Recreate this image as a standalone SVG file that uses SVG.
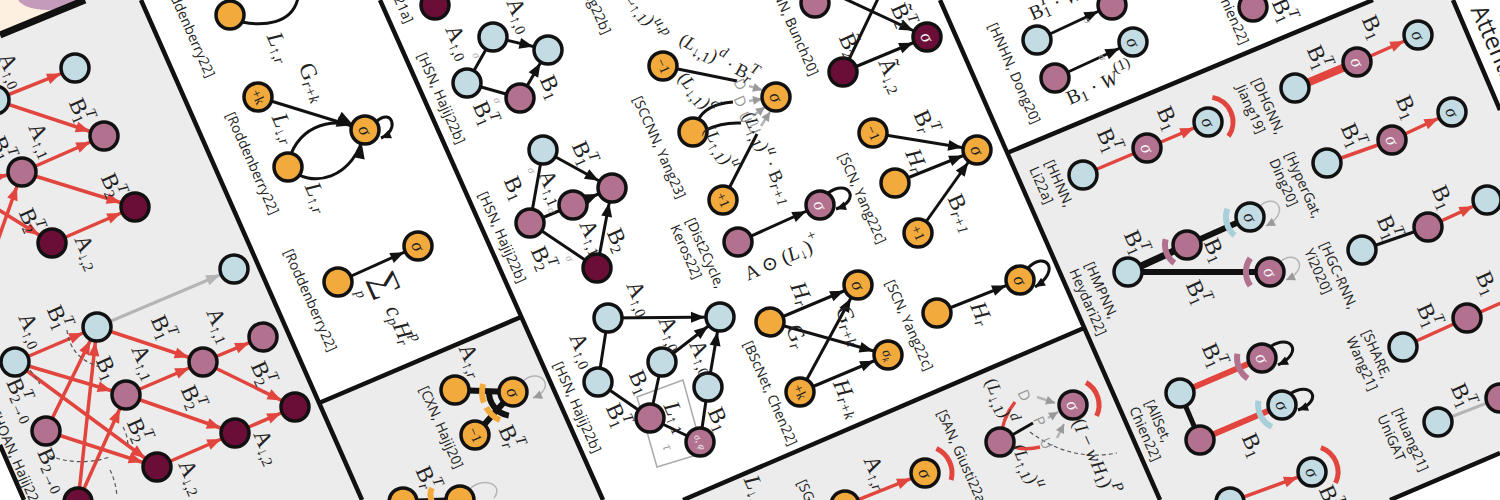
<svg xmlns="http://www.w3.org/2000/svg" width="1500" height="500" viewBox="0 0 1500 500">
<style>
.n{stroke:#111;stroke-width:3.5}
.lb{fill:#c3dce4}.mv{fill:#b1718f}.mr{fill:#6b0e37}.or{fill:#f3aa3d}
.e{stroke:#111;stroke-width:3;fill:none}
.er{stroke:#e1453d;stroke-width:3.5;fill:none}
.eg{stroke:#b5b5b5;stroke-width:3;fill:none}
.dsh{stroke:#555;stroke-width:1.2;stroke-dasharray:4 3;fill:none}
.bd{stroke:#111;stroke-width:4.5;fill:none}
.gp{fill:#ececec}
.t{font-family:"Open Sans","Noto Sans",sans-serif;font-size:14px;fill:#222;text-anchor:middle;dominant-baseline:central}
.m{font-family:"Liberation Serif","DejaVu Serif",serif;font-size:23px;fill:#222;text-anchor:middle;dominant-baseline:central}
.ts{text-anchor:start}
.i{font-style:italic}
.sb{font-size:15px}
.s{font-family:"Liberation Serif","DejaVu Serif",serif;font-style:italic;font-size:18px;fill:#222;text-anchor:middle;dominant-baseline:central}
.w{fill:#f4f4f4}
.gl{font-family:"Open Sans",sans-serif;font-size:15px;fill:#9a9a9a;text-anchor:middle;dominant-baseline:central}
.gs{font-family:"Liberation Serif",serif;font-style:italic;font-size:11px;fill:#aaa;text-anchor:middle;dominant-baseline:central}
</style>
<defs>
<marker id="ah" markerUnits="userSpaceOnUse" orient="auto" markerWidth="1" markerHeight="1" style="overflow:visible"><path d="M-29,-5.5 L-15,0 L-29,5.5 z" fill="#111"/></marker>
<marker id="ar" markerUnits="userSpaceOnUse" orient="auto" markerWidth="1" markerHeight="1" style="overflow:visible"><path d="M-29,-5.5 L-15,0 L-29,5.5 z" fill="#e1453d"/></marker>
<marker id="ag" markerUnits="userSpaceOnUse" orient="auto" markerWidth="1" markerHeight="1" style="overflow:visible"><path d="M-29,-5.5 L-15,0 L-29,5.5 z" fill="#b5b5b5"/></marker>
<marker id="ah0" markerUnits="userSpaceOnUse" orient="auto" markerWidth="1" markerHeight="1" style="overflow:visible"><path d="M-10,-4.5 L0,0 L-10,4.5 z" fill="#111"/></marker>
<marker id="ag0" markerUnits="userSpaceOnUse" orient="auto" markerWidth="1" markerHeight="1" style="overflow:visible"><path d="M-9,-4.5 L0,0 L-9,4.5 z" fill="#9a9a9a"/></marker>
</defs>

<g id="panels">
<rect width="1500" height="500" fill="#fff"/>
<polygon points="0,0 85,0 0,35" fill="#fdf0e1"/>
<ellipse cx="48" cy="-2" rx="30" ry="12" fill="#c59bbb"/>
<polygon class="gp" points="0,35 85,0 141,0 362,500 24,500 0,445"/>
<polygon class="gp" points="319,403 521,317 603,500 362,500"/>
<polygon class="gp" points="683,500 1084,328 1160,500"/>
<polygon class="gp" points="1007,153 1373,0 1453,0 1500,110 1500,453 1390,500 1160,500"/>
<path class="bd" d="M0,35 L85,0" style="stroke-width:7"/>
<path class="bd" d="M141,0 L362,500 M0,445 L24,500 M380,0 L603,500 M319,403 L521,317 M940,0 L1160,500 M683,500 L1084,328 M1007,153 L1373,0 M1453,0 L1500,110 M1390,500 L1500,453"/>
</g>

<g id="connectors">
<line class="er" x1="-5" y1="100" x2="75" y2="68" marker-end="url(#ar)"/>
<line class="er" x1="-5" y1="100" x2="104" y2="136" marker-end="url(#ar)"/>
<line class="er" x1="22" y1="172" x2="104" y2="136" marker-end="url(#ar)"/>
<line class="er" x1="22" y1="172" x2="135" y2="207" marker-end="url(#ar)"/>
<line class="er" x1="52" y1="243" x2="135" y2="207" marker-end="url(#ar)"/>
<line class="er" x1="-40" y1="185" x2="22" y2="172" marker-end="url(#ar)"/>
<line class="er" x1="-30" y1="192" x2="52" y2="243" marker-end="url(#ar)"/>
<line class="er" x1="-2" y1="240" x2="22" y2="172" marker-end="url(#ar)"/>
<line class="eg" x1="97" y1="327" x2="234" y2="269" marker-end="url(#ag)"/>
<line class="er" x1="15" y1="362" x2="97" y2="327" marker-end="url(#ar)"/>
<line class="er" x1="15" y1="362" x2="126" y2="395" marker-end="url(#ar)"/>
<line class="er" x1="15" y1="362" x2="157" y2="467" marker-end="url(#ar)"/>
<line class="er" x1="46" y1="431" x2="97" y2="327" marker-end="url(#ar)"/>
<line class="er" x1="46" y1="431" x2="157" y2="467" marker-end="url(#ar)"/>
<line class="er" x1="78" y1="502" x2="97" y2="327" marker-end="url(#ar)"/>
<line class="er" x1="78" y1="502" x2="126" y2="395" marker-end="url(#ar)"/>
<line class="er" x1="97" y1="327" x2="203" y2="362" marker-end="url(#ar)"/>
<line class="er" x1="126" y1="395" x2="203" y2="362" marker-end="url(#ar)"/>
<line class="er" x1="126" y1="395" x2="235" y2="433" marker-end="url(#ar)"/>
<line class="er" x1="157" y1="467" x2="235" y2="433" marker-end="url(#ar)"/>
<line class="er" x1="203" y1="362" x2="263" y2="337" marker-end="url(#ar)"/>
<line class="er" x1="203" y1="362" x2="295" y2="407" marker-end="url(#ar)"/>
<line class="er" x1="235" y1="433" x2="295" y2="407" marker-end="url(#ar)"/>
<path class="dsh" d="M67,330 Q70,358 100,367"/>
<path class="dsh" d="M30,370 Q36,378 40,384"/>
<path class="dsh" d="M43,453 Q75,468 110,457"/>
<path class="dsh" d="M110,470 Q116,482 117,497"/>
<path class="dsh" d="M123,427 Q128,436 128,447"/>
<path class="e" d="M242,22 C262,26 292,25 298,-2"/>
<line class="e" x1="258" y1="97" x2="365" y2="130" marker-end="url(#ah)"/>
<path class="e" d="M288,167 C292,130 330,112 365,130" marker-end="url(#ah)"/>
<path class="e" d="M288,167 C310,190 355,180 365,130" marker-end="url(#ah)"/>
<path class="e" d="M377,121 C392,108 400,130 381,138" marker-end="url(#ah0)"/>
<line class="e" x1="338" y1="282" x2="418" y2="246" marker-end="url(#ah)"/>
<line x1="455" y1="390" x2="513" y2="392" stroke="#111" stroke-width="6"/>
<line x1="475" y1="435" x2="513" y2="392" stroke="#111" stroke-width="6"/>
<path d="M508.8,415.6 A24,24 0 0 1 489.1,389.9" stroke="#111" stroke-width="6" fill="none"/>
<path d="M483.9,402.6 A31,31 0 0 1 483.1,384" stroke="#f3aa3d" stroke-width="6" fill="none"/>
<path d="M499.9,420.1 A31,31 0 0 1 486.2,407.5" stroke="#f3aa3d" stroke-width="6" fill="none"/>
<path class="eg" style="stroke-width:1.5" d="M523,381 C540,366 558,388 533,398" marker-end="url(#ag0)"/>
<line x1="403" y1="502" x2="460" y2="500" stroke="#111" stroke-width="6"/>
<path d="M432,488 Q428,496 434,506" stroke="#f3aa3d" stroke-width="6" fill="none"/>
<path class="eg" style="stroke-width:1.5" d="M470,489 C482,476 505,484 494,498"/>
<line class="e" x1="493" y1="37" x2="548" y2="50" marker-end="url(#ah)"/>
<line class="e" x1="520" y1="98" x2="548" y2="50" marker-end="url(#ah)"/>
<line class="e" x1="467" y1="83" x2="493" y2="37"/>
<line class="e" x1="467" y1="83" x2="520" y2="98"/>
<line class="e" x1="543" y1="150" x2="612" y2="188" marker-end="url(#ah)"/>
<line class="e" x1="573" y1="205" x2="612" y2="188" marker-end="url(#ah)"/>
<line class="e" x1="597" y1="268" x2="612" y2="188" marker-end="url(#ah)"/>
<line class="e" x1="530" y1="223" x2="543" y2="150"/>
<line class="e" x1="530" y1="223" x2="573" y2="205"/>
<line class="e" x1="530" y1="223" x2="597" y2="268"/>
<polygon points="637,397 683,380 703,453 657,467" fill="none" stroke="#aaa" stroke-width="1.5"/>
<line class="e" x1="608" y1="318" x2="720" y2="317" marker-end="url(#ah)"/>
<line class="e" x1="662" y1="362" x2="720" y2="317" marker-end="url(#ah)"/>
<line class="e" x1="708" y1="387" x2="720" y2="317" marker-end="url(#ah)"/>
<line class="e" x1="608" y1="318" x2="598" y2="382"/>
<line class="e" x1="598" y1="382" x2="650" y2="418"/>
<line class="e" x1="650" y1="418" x2="662" y2="362"/>
<line class="e" x1="650" y1="418" x2="700" y2="442"/>
<line class="e" x1="700" y1="442" x2="708" y2="387"/>
<line class="e" x1="663" y1="66" x2="737" y2="81"/>
<path class="e" d="M697,122 Q705,104 733,102"/>
<path class="e" d="M706,130 Q722,122 741,123"/>
<line class="e" x1="723" y1="200" x2="757" y2="134"/>
<line class="eg" style="stroke-width:2.5" x1="749" y1="86" x2="762" y2="90" marker-end="url(#ag0)"/>
<line class="eg" style="stroke-width:2.5" x1="749" y1="101" x2="762" y2="99" marker-end="url(#ag0)"/>
<line class="eg" style="stroke-width:2.5" x1="753" y1="116" x2="765" y2="107" marker-end="url(#ag0)"/>
<line class="eg" style="stroke-width:2.5" x1="761" y1="126" x2="770" y2="112" marker-end="url(#ag0)"/>
<line class="e" x1="738" y1="242" x2="820" y2="205" marker-end="url(#ah)"/>
<path class="e" d="M828,193 C848,178 862,200 836,209" marker-end="url(#ah0)"/>
<line class="e" x1="800" y1="-22" x2="927" y2="37" marker-end="url(#ah)"/>
<line class="e" x1="843" y1="72" x2="927" y2="37" marker-end="url(#ah)"/>
<line class="e" x1="843" y1="72" x2="885" y2="-16"/>
<line class="e" x1="873" y1="133" x2="977" y2="150" marker-end="url(#ah)"/>
<line class="e" x1="895" y1="183" x2="977" y2="150" marker-end="url(#ah)"/>
<line class="e" x1="918" y1="233" x2="977" y2="150" marker-end="url(#ah)"/>
<line class="e" x1="770" y1="322" x2="858" y2="285" marker-end="url(#ah)"/>
<line class="e" x1="770" y1="322" x2="888" y2="355" marker-end="url(#ah)"/>
<line class="e" x1="800" y1="392" x2="858" y2="285" marker-end="url(#ah)"/>
<line class="e" x1="800" y1="392" x2="888" y2="355" marker-end="url(#ah)"/>
<line class="e" x1="937" y1="313" x2="1020" y2="280" marker-end="url(#ah)"/>
<path class="e" d="M1028,268 C1045,250 1062,270 1035,287" marker-end="url(#ah0)"/>
<path class="er" d="M1000,442 Q1002,418 1015,402"/>
<path class="er" d="M1000,442 Q1020,452 1040,447"/>
<line class="e" x1="1000" y1="442" x2="1033" y2="423"/>
<path d="M1086,382.5 A26,26 0 0 1 1096.6,416" stroke="#e1453d" stroke-width="5" fill="none"/>
<line class="eg" style="stroke-width:2.5" x1="1037" y1="397" x2="1055" y2="403" marker-end="url(#ag0)"/>
<line class="eg" style="stroke-width:2.5" x1="1048" y1="418" x2="1058" y2="412" marker-end="url(#ag0)"/>
<line class="eg" style="stroke-width:2.5" x1="1057" y1="438" x2="1064" y2="424" marker-end="url(#ag0)"/>
<path class="dsh" d="M1030,432 Q1070,462 1117,453"/>
<line class="er" x1="845" y1="505" x2="925" y2="473" marker-end="url(#ar)"/>
<path d="M936.4,448.5 A27,27 0 0 1 951.1,480" stroke="#e1453d" stroke-width="5" fill="none"/>
<line class="e" x1="1037" y1="40" x2="1112" y2="5" marker-end="url(#ah)"/>
<line class="e" x1="1055" y1="78" x2="1133" y2="42" marker-end="url(#ah)"/>
<line x1="1295" y1="88" x2="1357" y2="62" stroke="#e1453d" stroke-width="8"/>
<line class="er" x1="1357" y1="62" x2="1418" y2="35" marker-end="url(#ar)"/>
<line class="er" x1="1083" y1="175" x2="1147" y2="148"/>
<line class="er" x1="1147" y1="148" x2="1208" y2="122" marker-end="url(#ar)"/>
<path d="M1212.4,97.4 A25,25 0 0 1 1228.5,136.3" stroke="#e1453d" stroke-width="5" fill="none"/>
<line class="er" x1="1327" y1="163" x2="1392" y2="140"/>
<line class="er" x1="1392" y1="140" x2="1452" y2="112" marker-end="url(#ar)"/>
<line x1="1128" y1="272" x2="1187" y2="245" stroke="#111" stroke-width="7"/>
<line x1="1187" y1="245" x2="1250" y2="217" stroke="#111" stroke-width="6"/>
<line x1="1128" y1="272" x2="1270" y2="272" stroke="#111" stroke-width="6"/>
<path d="M1234.6,235.4 A24,24 0 0 1 1227.4,208.8" stroke="#a9cfdb" stroke-width="6" fill="none"/>
<path d="M1174.4,263 A22,22 0 0 1 1165.7,239.3" stroke="#b1718f" stroke-width="6" fill="none"/>
<path d="M1250.3,285.8 A24,24 0 0 1 1250.3,258.2" stroke="#b1718f" stroke-width="6" fill="none"/>
<path class="eg" style="stroke-width:1.5" d="M1260,206 C1275,192 1292,212 1266,226" marker-end="url(#ag0)"/>
<path class="eg" style="stroke-width:1.5" d="M1280,262 C1295,248 1312,268 1286,280" marker-end="url(#ag0)"/>
<line class="e" x1="1362" y1="250" x2="1428" y2="227"/>
<line class="er" x1="1428" y1="227" x2="1487" y2="200" marker-end="url(#ar)"/>
<line class="er" x1="1403" y1="347" x2="1467" y2="318"/>
<line class="er" x1="1467" y1="318" x2="1510" y2="299"/>
<line class="eg" x1="1438" y1="422" x2="1500" y2="398"/>
<line x1="1180" y1="393" x2="1200" y2="440" stroke="#111" stroke-width="5"/>
<line x1="1180" y1="393" x2="1262" y2="358" stroke="#e1453d" stroke-width="6"/>
<line x1="1200" y1="440" x2="1282" y2="405" stroke="#e1453d" stroke-width="6"/>
<path d="M1247.7,378.5 A25,25 0 0 1 1237.4,353.7" stroke="#b1718f" stroke-width="6" fill="none"/>
<path d="M1271.9,426.8 A24,24 0 0 1 1258.4,400.8" stroke="#a9cfdb" stroke-width="6" fill="none"/>
<path class="e" d="M1270,347 C1290,333 1305,352 1278,365" marker-end="url(#ah0)"/>
<path class="e" d="M1290,394 C1310,380 1325,400 1298,410" marker-end="url(#ah0)"/>
<line class="er" x1="1230" y1="502" x2="1312" y2="472" marker-end="url(#ar)"/>
<path d="M1320.9,447.6 A26,26 0 0 1 1335.6,483" stroke="#e1453d" stroke-width="5" fill="none"/>
</g>

<g id="nodes">
<g id="a1"><circle class="n lb" cx="75" cy="68" r="14"/></g>
<g id="a2"><circle class="n lb" cx="-5" cy="100" r="14"/></g>
<g id="a3"><circle class="n mv" cx="104" cy="136" r="14"/></g>
<g id="a4"><circle class="n mv" cx="22" cy="172" r="14"/></g>
<g id="a5"><circle class="n mr" cx="135" cy="207" r="14"/></g>
<g id="a6"><circle class="n mr" cx="52" cy="243" r="14"/></g>
<g id="b1"><circle class="n lb" cx="234" cy="269" r="14"/></g>
<g id="b2"><circle class="n lb" cx="97" cy="327" r="14"/></g>
<g id="b3"><circle class="n lb" cx="15" cy="362" r="14"/></g>
<g id="b4"><circle class="n mv" cx="263" cy="337" r="14"/></g>
<g id="b5"><circle class="n mv" cx="203" cy="362" r="14"/></g>
<g id="b6"><circle class="n mv" cx="126" cy="395" r="14"/></g>
<g id="b7"><circle class="n mv" cx="46" cy="431" r="14"/></g>
<g id="b8"><circle class="n mr" cx="295" cy="407" r="14"/></g>
<g id="b9"><circle class="n mr" cx="235" cy="433" r="14"/></g>
<g id="b10"><circle class="n mr" cx="157" cy="467" r="14"/></g>
<g id="b11"><circle class="n mr" cx="78" cy="502" r="14"/></g>
<g id="c1"><circle class="n or" cx="230" cy="15" r="14"/></g>
<g id="c2"><circle class="n or" cx="258" cy="97" r="14"/><text class="s" style="font-style:normal;font-size:14px" transform="translate(258 97) rotate(66)">+k</text></g>
<g id="c3"><circle class="n or" cx="365" cy="130" r="14"/><text class="s" transform="translate(365 130) rotate(66)">σ</text></g>
<g id="c4"><circle class="n or" cx="288" cy="167" r="14"/></g>
<g id="c5"><circle class="n or" cx="338" cy="282" r="14"/></g>
<g id="c6"><circle class="n or" cx="418" cy="246" r="14"/><text class="s" transform="translate(418 246) rotate(66)">σ</text></g>
<g id="d1"><circle class="n or" cx="455" cy="390" r="14"/></g>
<g id="d2"><circle class="n or" cx="513" cy="392" r="14"/><text class="s" transform="translate(513 392) rotate(66)">σ</text></g>
<g id="d3"><circle class="n or" cx="475" cy="435" r="14"/><text class="s" style="font-style:normal;font-size:14px" transform="translate(475 435) rotate(66)">−1</text></g>
<g id="d4"><circle class="n or" cx="403" cy="502" r="14"/></g>
<g id="d5"><circle class="n or" cx="460" cy="500" r="14"/></g>
<g id="e0"><circle class="n mr" cx="435" cy="5" r="14"/></g>
<g id="e1"><circle class="n lb" cx="493" cy="37" r="14"/></g>
<g id="e2"><circle class="n lb" cx="548" cy="50" r="14"/></g>
<g id="e3"><circle class="n lb" cx="467" cy="83" r="14"/></g>
<g id="e4"><circle class="n mv" cx="520" cy="98" r="14"/></g>
<g id="f1"><circle class="n lb" cx="543" cy="150" r="14"/></g>
<g id="f2"><circle class="n mv" cx="612" cy="188" r="14"/></g>
<g id="f3"><circle class="n mv" cx="573" cy="205" r="14"/></g>
<g id="f4"><circle class="n mv" cx="530" cy="223" r="14"/></g>
<g id="f5"><circle class="n mr" cx="597" cy="268" r="14"/></g>
<g id="g1"><circle class="n lb" cx="608" cy="318" r="14"/></g>
<g id="g2"><circle class="n lb" cx="720" cy="317" r="14"/></g>
<g id="g3"><circle class="n lb" cx="662" cy="362" r="14"/></g>
<g id="g4"><circle class="n lb" cx="598" cy="382" r="14"/></g>
<g id="g5"><circle class="n lb" cx="708" cy="387" r="14"/></g>
<g id="g6"><circle class="n mv" cx="650" cy="418" r="14"/></g>
<g id="g7"><circle class="n mv" cx="700" cy="442" r="14"/><text class="s w" style="font-size:10px" transform="translate(700 442) rotate(66)">σ, φ</text></g>
<g id="h1"><circle class="n or" cx="663" cy="66" r="14"/><text class="s" style="font-style:normal;font-size:14px" transform="translate(663 66) rotate(66)">−1</text></g>
<g id="h2"><circle class="n or" cx="693" cy="132" r="14"/></g>
<g id="h3"><circle class="n or" cx="723" cy="200" r="14"/><text class="s" style="font-style:normal;font-size:14px" transform="translate(723 200) rotate(66)">+1</text></g>
<g id="h4"><circle class="n or" cx="776" cy="97" r="14"/><text class="s" transform="translate(776 97) rotate(66)">σ</text></g>
<g id="i1"><circle class="n mv" cx="738" cy="242" r="14"/></g>
<g id="i2"><circle class="n mv" cx="820" cy="205" r="14"/><text class="s w" transform="translate(820 205) rotate(66)">σ</text></g>
<g id="j1"><circle class="n mv" cx="815" cy="3" r="14"/></g>
<g id="j2"><circle class="n mr" cx="843" cy="72" r="14"/></g>
<g id="j3"><circle class="n mr" cx="927" cy="37" r="14"/><text class="s w" transform="translate(927 37) rotate(66)">σ</text></g>
<g id="k1"><circle class="n or" cx="873" cy="133" r="14"/><text class="s" style="font-style:normal;font-size:14px" transform="translate(873 133) rotate(66)">−1</text></g>
<g id="k2"><circle class="n or" cx="895" cy="183" r="14"/></g>
<g id="k3"><circle class="n or" cx="918" cy="233" r="14"/><text class="s" style="font-style:normal;font-size:14px" transform="translate(918 233) rotate(66)">+1</text></g>
<g id="k4"><circle class="n or" cx="977" cy="150" r="14"/><text class="s" transform="translate(977 150) rotate(66)">σ</text></g>
<g id="l1"><circle class="n or" cx="770" cy="322" r="14"/></g>
<g id="l2"><circle class="n or" cx="858" cy="285" r="14"/><text class="s" transform="translate(858 285) rotate(66)">σ</text></g>
<g id="l3"><circle class="n or" cx="888" cy="355" r="14"/><text class="s" style="font-size:14px" transform="translate(888 355) rotate(66)">σ<tspan font-size="9" dy="4">k</tspan></text></g>
<g id="l4"><circle class="n or" cx="800" cy="392" r="14"/><text class="s" style="font-style:normal;font-size:14px" transform="translate(800 392) rotate(66)">+k</text></g>
<g id="m1"><circle class="n or" cx="937" cy="313" r="14"/></g>
<g id="m2"><circle class="n or" cx="1020" cy="280" r="14"/><text class="s" transform="translate(1020 280) rotate(66)">σ</text></g>
<g id="n1"><circle class="n mv" cx="1073" cy="405" r="14"/><text class="s w" transform="translate(1073 405) rotate(66)">σ</text></g>
<g id="n2"><circle class="n mv" cx="1000" cy="442" r="14"/></g>
<g id="o1"><circle class="n or" cx="925" cy="473" r="14"/><text class="s" transform="translate(925 473) rotate(66)">σ</text></g>
<g id="o2"><circle class="n or" cx="845" cy="505" r="14"/></g>
<g id="p1"><circle class="n lb" cx="1037" cy="40" r="14"/></g>
<g id="p2"><circle class="n mv" cx="1112" cy="5" r="14"/></g>
<g id="p3"><circle class="n mv" cx="1055" cy="78" r="14"/></g>
<g id="p4"><circle class="n lb" cx="1133" cy="42" r="14"/><text class="s" transform="translate(1133 42) rotate(66)">σ</text></g>
<g id="p5"><circle class="n mv" cx="1253" cy="7" r="14"/></g>
<g id="q1"><circle class="n lb" cx="1295" cy="88" r="14"/></g>
<g id="q2"><circle class="n mv" cx="1357" cy="62" r="14"/><text class="s w" transform="translate(1357 62) rotate(66)">σ</text></g>
<g id="q3"><circle class="n lb" cx="1418" cy="35" r="14"/><text class="s" transform="translate(1418 35) rotate(66)">σ</text></g>
<g id="r1"><circle class="n lb" cx="1083" cy="175" r="14"/></g>
<g id="r2"><circle class="n mv" cx="1147" cy="148" r="14"/><text class="s w" transform="translate(1147 148) rotate(66)">σ</text></g>
<g id="r3"><circle class="n lb" cx="1208" cy="122" r="14"/><text class="s" transform="translate(1208 122) rotate(66)">σ</text></g>
<g id="s1"><circle class="n lb" cx="1327" cy="163" r="14"/></g>
<g id="s2"><circle class="n mv" cx="1392" cy="140" r="14"/><text class="s w" transform="translate(1392 140) rotate(66)">σ</text></g>
<g id="s3"><circle class="n lb" cx="1452" cy="112" r="14"/><text class="s" transform="translate(1452 112) rotate(66)">σ</text></g>
<g id="t1"><circle class="n lb" cx="1250" cy="217" r="14"/><text class="s" transform="translate(1250 217) rotate(66)">σ</text></g>
<g id="t2"><circle class="n mv" cx="1187" cy="245" r="14"/></g>
<g id="t3"><circle class="n lb" cx="1128" cy="272" r="14"/></g>
<g id="t4"><circle class="n mv" cx="1270" cy="272" r="14"/><text class="s w" transform="translate(1270 272) rotate(66)">σ</text></g>
<g id="u1"><circle class="n lb" cx="1362" cy="250" r="14"/></g>
<g id="u2"><circle class="n mv" cx="1428" cy="227" r="14"/></g>
<g id="u3"><circle class="n lb" cx="1487" cy="200" r="14"/></g>
<g id="v1"><circle class="n lb" cx="1403" cy="347" r="14"/></g>
<g id="v2"><circle class="n mv" cx="1467" cy="318" r="14"/></g>
<g id="w1"><circle class="n lb" cx="1438" cy="422" r="14"/></g>
<g id="w2"><circle class="n mv" cx="1500" cy="398" r="14"/></g>
<g id="x1"><circle class="n lb" cx="1180" cy="393" r="14"/></g>
<g id="x2"><circle class="n mv" cx="1200" cy="440" r="14"/></g>
<g id="x3"><circle class="n mv" cx="1262" cy="358" r="14"/><text class="s w" transform="translate(1262 358) rotate(66)">σ</text></g>
<g id="x4"><circle class="n lb" cx="1282" cy="405" r="14"/><text class="s" transform="translate(1282 405) rotate(66)">σ</text></g>
<g id="y1"><circle class="n lb" cx="1312" cy="472" r="14"/><text class="s" transform="translate(1312 472) rotate(66)">σ</text></g>
<g id="y2"><circle class="n lb" cx="1230" cy="502" r="14"/></g>
</g>

<g id="edge-labels">
<text class="gs" transform="translate(477 55) rotate(66)">σ</text>
<text class="gs" transform="translate(498 100) rotate(66)">σ</text>
<text class="gs" transform="translate(532 170) rotate(66)">σ</text>
<text class="gs" transform="translate(552 210) rotate(66)">σ</text>
<text class="gs" transform="translate(570 258) rotate(66)">σ</text>
<text class="gs" transform="translate(1088 20) rotate(66)">σ</text>
<text class="gs" transform="translate(1103 57) rotate(66)">σ</text>
<text class="gl" transform="translate(741 84) rotate(66)">D</text>
<text class="gl" transform="translate(741 101) rotate(66)">D</text>
<text class="gl" transform="translate(746 117) rotate(66)">U</text>
<text class="gl" transform="translate(755 128) rotate(66)">U</text>
<text class="gl" transform="translate(1025 395) rotate(66)">D</text>
<text class="gl" transform="translate(1040 421) rotate(66)">P</text>
<text class="gl" transform="translate(1047 443) rotate(66)">U</text>
<text class="gl" transform="translate(668 447) rotate(66)" style="font-family:'Liberation Serif',serif;font-style:italic">τ</text>
<text class="m" transform="translate(12 70) rotate(66)">A<tspan class="sb" dy="6">↑,0</tspan></text>
<text class="m" transform="translate(80 110) rotate(66)">B<tspan class="sb" dy="6">1</tspan><tspan class="sb i" dx="-8" dy="-15">T</tspan></text>
<text class="m" transform="translate(42 140) rotate(66)">A<tspan class="sb" dy="6">↑,1</tspan></text>
<text class="m" transform="translate(2 148) rotate(66)">B<tspan class="sb" dy="6">1</tspan><tspan class="sb i" dx="-8" dy="-15">T</tspan></text>
<text class="m" transform="translate(112 185) rotate(66)">B<tspan class="sb" dy="6">2</tspan><tspan class="sb i" dx="-8" dy="-15">T</tspan></text>
<text class="m" transform="translate(30 220) rotate(66)">B<tspan class="sb" dy="6">2</tspan><tspan class="sb i" dx="-8" dy="-15">T</tspan></text>
<text class="m" transform="translate(88 252) rotate(66)">A<tspan class="sb" dy="6">↓,2</tspan></text>
<text class="m" transform="translate(58 317) rotate(66)">B<tspan class="sb" dy="6">1</tspan><tspan class="sb i" dx="-8" dy="-15">T</tspan></text>
<text class="m" transform="translate(32 330) rotate(66)">A<tspan class="sb" dy="6">↑,0</tspan></text>
<text class="m" transform="translate(162 327) rotate(66)">B<tspan class="sb" dy="6">1</tspan><tspan class="sb i" dx="-8" dy="-15">T</tspan></text>
<text class="m" transform="translate(220 325) rotate(66)">A<tspan class="sb" dy="6">↑,1</tspan></text>
<text class="m" transform="translate(107 368) rotate(66)">B<tspan class="sb" dy="6">1</tspan></text>
<text class="m" transform="translate(145 362) rotate(66)">A<tspan class="sb" dy="6">↑,1</tspan></text>
<text class="m" transform="translate(262 373) rotate(66)">B<tspan class="sb" dy="6">2</tspan><tspan class="sb i" dx="-8" dy="-15">T</tspan></text>
<text class="m" transform="translate(192 397) rotate(66)">B<tspan class="sb" dy="6">2</tspan><tspan class="sb i" dx="-8" dy="-15">T</tspan></text>
<text class="m" transform="translate(138 430) rotate(66)">B<tspan class="sb" dy="6">2</tspan><tspan class="sb i" dx="-8" dy="-15">T</tspan></text>
<text class="m" transform="translate(267 447) rotate(66)">A<tspan class="sb" dy="6">↓,2</tspan></text>
<text class="m" transform="translate(192 477) rotate(66)">A<tspan class="sb" dy="6">↓,2</tspan></text>
<text class="m" transform="translate(22 400) rotate(66)">B<tspan class="sb" dy="6">2→0</tspan><tspan class="sb i" dx="-30" dy="-15">T</tspan></text>
<text class="m" transform="translate(53 470) rotate(66)">B<tspan class="sb" dy="6">2→0</tspan></text>
<text class="m" transform="translate(280 47) rotate(66)"><tspan class="i">L</tspan><tspan class="sb" dy="6">↑,<tspan class="i">r</tspan></tspan></text>
<text class="m" transform="translate(313 82) rotate(66)">G<tspan class="sb i" dy="6">r+k</tspan></text>
<text class="m" transform="translate(285 128) rotate(66)"><tspan class="i">L</tspan><tspan class="sb" dy="6">↓,<tspan class="i">r</tspan></tspan></text>
<text class="m" transform="translate(318 197) rotate(66)"><tspan class="i">L</tspan><tspan class="sb" dy="6">↑,<tspan class="i">r</tspan></tspan></text>
<text class="m" style="font-size:34px" transform="translate(387 284) rotate(66)">∑</text>
<text class="m i" style="font-size:15px" transform="translate(361 294) rotate(66)">p</text>
<text class="m" transform="translate(401 325) rotate(66)"><tspan class="i">c</tspan><tspan class="sb i" dy="6">p</tspan><tspan class="i" dy="-6">H</tspan><tspan class="sb i" dy="6">r</tspan><tspan class="sb i" dx="-6" dy="-15">p</tspan></text>
<text class="m" transform="translate(472 360) rotate(66)">A<tspan class="sb" dy="6">↑,<tspan class="i">r</tspan></tspan></text>
<text class="m" transform="translate(510 437) rotate(66)">B<tspan class="sb i" dy="6">r</tspan><tspan class="sb i" dx="-6" dy="-15">T</tspan></text>
<text class="m" transform="translate(427 478) rotate(66)">B<tspan class="sb i" dy="6">r</tspan><tspan class="sb i" dx="-6" dy="-15">T</tspan></text>
<text class="m" transform="translate(520 15) rotate(66)">A<tspan class="sb" dy="6">↑,0</tspan></text>
<text class="m" transform="translate(459 42) rotate(66)">A<tspan class="sb" dy="6">↑,0</tspan></text>
<text class="m" transform="translate(551 87) rotate(66)">B<tspan class="sb" dy="6">1</tspan></text>
<text class="m" transform="translate(484 113) rotate(66)">B<tspan class="sb" dy="6">1</tspan><tspan class="sb i" dx="-8" dy="-15">T</tspan></text>
<text class="m" transform="translate(583 153) rotate(66)">B<tspan class="sb" dy="6">1</tspan><tspan class="sb i" dx="-8" dy="-15">T</tspan></text>
<text class="m" transform="translate(552 187) rotate(66)">A<tspan class="sb" dy="6">↑,1</tspan></text>
<text class="m" transform="translate(515 188) rotate(66)">B<tspan class="sb" dy="6">1</tspan></text>
<text class="m" transform="translate(618 240) rotate(66)">B<tspan class="sb" dy="6">2</tspan></text>
<text class="m" transform="translate(593 237) rotate(66)">A<tspan class="sb" dy="6">↑,1</tspan></text>
<text class="m" transform="translate(542 258) rotate(66)">B<tspan class="sb" dy="6">2</tspan><tspan class="sb i" dx="-8" dy="-15">T</tspan></text>
<text class="m" transform="translate(640 298) rotate(66)">A<tspan class="sb" dy="6">↑,0</tspan></text>
<text class="m" transform="translate(672 333) rotate(66)">A<tspan class="sb" dy="6">↑,0</tspan></text>
<text class="m" transform="translate(703 357) rotate(66)">A<tspan class="sb" dy="6">↑,0</tspan></text>
<text class="m" transform="translate(583 350) rotate(66)">A<tspan class="sb" dy="6">↑,0</tspan></text>
<text class="m" transform="translate(640 382) rotate(66)">B<tspan class="sb" dy="6">1</tspan></text>
<text class="m" transform="translate(617 415) rotate(66)">B<tspan class="sb" dy="6">1</tspan><tspan class="sb i" dx="-8" dy="-15">T</tspan></text>
<text class="m" transform="translate(719 419) rotate(66)">B<tspan class="sb" dy="6">1</tspan></text>
<text class="m" transform="translate(677 417) rotate(66)"><tspan class="i">L</tspan><tspan class="sb" dy="6">↑,1</tspan></text>
<text class="m" style="font-size:18px" transform="translate(645 14) rotate(55)">(<tspan class="i">L</tspan><tspan class="sb" dy="5">↑,1</tspan><tspan dy="-5">)</tspan><tspan class="sb i" dy="-8">u,p</tspan></text>
<text class="m" style="font-size:18px" transform="translate(718 58) rotate(28)">(<tspan class="i">L</tspan><tspan class="sb" dy="5">↓,1</tspan><tspan dy="-5">)</tspan><tspan class="sb i" dy="-8">d</tspan><tspan dy="8"> · B</tspan><tspan class="sb i" dy="5">r</tspan><tspan class="sb i" dx="-5" dy="-13">T</tspan></text>
<text class="m" style="font-size:18px" transform="translate(697 93) rotate(50)">(<tspan class="i">L</tspan><tspan class="sb" dy="5">↓,1</tspan><tspan dy="-5">)</tspan><tspan class="sb i" dy="-8">d</tspan></text>
<text class="m" style="font-size:18px" transform="translate(720 148) rotate(60)">(<tspan class="i">L</tspan><tspan class="sb" dy="5">↑,1</tspan><tspan dy="-5">)</tspan><tspan class="sb i" dy="-8">u</tspan></text>
<text class="m" style="font-size:18px" transform="translate(768 158) rotate(66)">(<tspan class="i">L</tspan><tspan class="sb" dy="5">↑,1</tspan><tspan dy="-5">)</tspan><tspan class="sb i" dy="-8">u</tspan><tspan dy="8"> · B</tspan><tspan class="sb i" dy="5">r+1</tspan></text>
<text class="m" style="font-size:20px" transform="translate(782 258) rotate(-24)">A ⊙ (<tspan class="i">L</tspan><tspan class="sb" dy="5">↓</tspan><tspan dy="-5">)</tspan><tspan class="sb" dy="-9">+</tspan></text>
<text class="m" transform="translate(902 15) rotate(66)">B̃<tspan class="sb" dy="6">2</tspan><tspan class="sb i" dx="-8" dy="-15">T</tspan></text>
<text class="m" transform="translate(850 45) rotate(66)">B̃<tspan class="sb" dy="6">2</tspan></text>
<text class="m" transform="translate(892 75) rotate(66)">Ã<tspan class="sb" dy="6">↓,2</tspan></text>
<text class="m" transform="translate(925 122) rotate(66)">B<tspan class="sb i" dy="6">r</tspan><tspan class="sb i" dx="-6" dy="-15">T</tspan></text>
<text class="m" transform="translate(917 160) rotate(66)"><tspan class="i">H</tspan><tspan class="sb i" dy="6">r</tspan></text>
<text class="m" transform="translate(962 213) rotate(66)">B<tspan class="sb i" dy="6">r+1</tspan></text>
<text class="m" transform="translate(802 293) rotate(66)"><tspan class="i">H</tspan><tspan class="sb i" dy="6">r</tspan></text>
<text class="m" transform="translate(797 336) rotate(66)">G<tspan class="sb i" dy="6">r</tspan></text>
<text class="m" transform="translate(850 325) rotate(66)">G<tspan class="sb i" dy="6">r+k</tspan></text>
<text class="m" transform="translate(848 398) rotate(66)"><tspan class="i">H</tspan><tspan class="sb i" dy="6">r+k</tspan></text>
<text class="m" transform="translate(982 313) rotate(66)"><tspan class="i">H</tspan><tspan class="sb i" dy="6">r</tspan></text>
<text class="m" style="font-size:18px" transform="translate(1000 401) rotate(66)">(<tspan class="i">L</tspan><tspan class="sb" dy="5">↓,1</tspan><tspan dy="-5">)</tspan><tspan class="sb i" dy="-8">d</tspan></text>
<text class="m" style="font-size:18px" transform="translate(1027 467) rotate(66)">(<tspan class="i">L</tspan><tspan class="sb" dy="5">↑,1</tspan><tspan dy="-5">)</tspan><tspan class="sb i" dy="-8">u</tspan></text>
<text class="m" style="font-size:19px" transform="translate(1095 457) rotate(66)">(<tspan class="i">I</tspan> − <tspan class="i">wH</tspan><tspan class="sb" dy="5">1</tspan><tspan dy="-5">)</tspan><tspan class="sb i" dy="-9">P</tspan></text>
<text class="m" transform="translate(877 472) rotate(66)">A<tspan class="sb" dy="6">↑,<tspan class="i">r</tspan></tspan></text>
<text class="m" transform="translate(757 490) rotate(66)"><tspan class="i">L</tspan><tspan class="sb" dy="6">↓,<tspan class="i">r</tspan></tspan></text>
<text class="m ts" style="font-size:20px" transform="translate(1030 14) rotate(-24)">B<tspan class="sb" dy="5">1</tspan><tspan class="sb i" dx="-8" dy="-13">T</tspan><tspan dy="8"> · </tspan><tspan class="i">W</tspan><tspan class="sb" dy="-9">(0)</tspan></text>
<text class="m" style="font-size:20px" transform="translate(1100 84) rotate(-24)">B<tspan class="sb" dy="5">1</tspan><tspan dy="-5"> · </tspan><tspan class="i">W</tspan><tspan class="sb" dy="-9">(1)</tspan></text>
<text class="m" transform="translate(1283 10) rotate(66)">B<tspan class="sb" dy="6">1</tspan><tspan class="sb i" dx="-8" dy="-15">T</tspan></text>
<text class="m" transform="translate(1318 57) rotate(66)">B<tspan class="sb" dy="6">1</tspan><tspan class="sb i" dx="-8" dy="-15">T</tspan></text>
<text class="m" transform="translate(1373 27) rotate(66)">B<tspan class="sb" dy="6">1</tspan></text>
<text class="m" transform="translate(1108 140) rotate(66)">B<tspan class="sb" dy="6">1</tspan><tspan class="sb i" dx="-8" dy="-15">T</tspan></text>
<text class="m" transform="translate(1168 118) rotate(66)">B<tspan class="sb" dy="6">1</tspan></text>
<text class="m" transform="translate(1352 135) rotate(66)">B<tspan class="sb" dy="6">1</tspan><tspan class="sb i" dx="-8" dy="-15">T</tspan></text>
<text class="m" transform="translate(1407 107) rotate(66)">B<tspan class="sb" dy="6">1</tspan></text>
<text class="m" transform="translate(1135 242) rotate(66)">B<tspan class="sb" dy="6">1</tspan><tspan class="sb i" dx="-8" dy="-15">T</tspan></text>
<text class="m" transform="translate(1215 250) rotate(66)">B<tspan class="sb" dy="6">1</tspan></text>
<text class="m" transform="translate(1197 292) rotate(66)">B<tspan class="sb" dy="6">1</tspan><tspan class="sb i" dx="-8" dy="-15">T</tspan></text>
<text class="m" transform="translate(1388 227) rotate(66)">B<tspan class="sb" dy="6">1</tspan><tspan class="sb i" dx="-8" dy="-15">T</tspan></text>
<text class="m" transform="translate(1443 197) rotate(66)">B<tspan class="sb" dy="6">1</tspan></text>
<text class="m" transform="translate(1428 315) rotate(66)">B<tspan class="sb" dy="6">1</tspan><tspan class="sb i" dx="-8" dy="-15">T</tspan></text>
<text class="m" transform="translate(1487 283) rotate(66)">B<tspan class="sb" dy="6">1</tspan></text>
<text class="m" transform="translate(1462 395) rotate(66)">B<tspan class="sb" dy="6">1</tspan><tspan class="sb i" dx="-8" dy="-15">T</tspan></text>
<text class="m" transform="translate(1213 355) rotate(66)">B<tspan class="sb" dy="6">1</tspan><tspan class="sb i" dx="-8" dy="-15">T</tspan></text>
<text class="m" transform="translate(1253 445) rotate(66)">B<tspan class="sb" dy="6">1</tspan></text>
<text class="m" transform="translate(1330 497) rotate(66)">B<tspan class="sb" dy="6">1</tspan><tspan class="sb i" dx="-8" dy="-15">T</tspan></text>
</g>

<g id="citations">
<text class="t" transform="translate(189 26) rotate(66)">[Roddenberry22]</text>
<text class="t" transform="translate(253 163) rotate(66)">[Roddenberry22]</text>
<text class="t" transform="translate(311 300) rotate(66)">[Roddenberry22]</text>
<text class="t" transform="translate(18 462) rotate(66)">[HOAN, Hajij22a]</text>
<text class="t" transform="translate(384 -36) rotate(66)">[MPSN, Bodnar21a]</text>
<text class="t" transform="translate(588 -11) rotate(66)">[SCF, Yang22b]</text>
<text class="t" transform="translate(442 98) rotate(66)">[HSN, Hajij22b]</text>
<text class="t" transform="translate(503 237) rotate(66)">[HSN, Hajij22b]</text>
<text class="t" transform="translate(578 407) rotate(66)">[HSN, Hajij22b]</text>
<text class="t" transform="translate(442 427) rotate(66)">[CXN, Hajij20]</text>
<text class="t" transform="translate(660 147) rotate(66)">[SCCNN, Yang23]</text>
<text class="t ts" transform="translate(691 218) rotate(66)"><tspan x="0">[Dist2Cycle,</tspan><tspan x="0" dy="17">Keros22]</tspan></text>
<text class="t" transform="translate(789 16) rotate(66)">[S2CCNN, Bunch20]</text>
<text class="t" transform="translate(863 198) rotate(66)">[SCN, Yang22c]</text>
<text class="t" transform="translate(910 325) rotate(66)">[SCN, Yang22c]</text>
<text class="t" transform="translate(771 393) rotate(66)">[BScNet, Chen22]</text>
<text class="t" transform="translate(963 458) rotate(66)">[SAN, Giusti22a]</text>
<text class="t" transform="translate(820 521) rotate(66)">[SGAT, Lee22]</text>
<text class="t" transform="translate(1015 73) rotate(66)">[HNHN, Dong20]</text>
<text class="t" transform="translate(1224 -5) rotate(66)">[AllSet, Chien22]</text>
<text class="t ts" transform="translate(1257 78) rotate(66)"><tspan x="0">[DHGNN,</tspan><tspan x="0" dy="17">Jiang19]</tspan></text>
<text class="t ts" transform="translate(1050 160) rotate(66)"><tspan x="0">[HHNN,</tspan><tspan x="0" dy="17">Li22a]</tspan></text>
<text class="t ts" transform="translate(1290 152) rotate(66)"><tspan x="0">[HyperGat,</tspan><tspan x="0" dy="17">Ding20]</tspan></text>
<text class="t ts" transform="translate(1090 262) rotate(66)"><tspan x="0">[HMPNN,</tspan><tspan x="0" dy="17">Heydari22]</tspan></text>
<text class="t ts" transform="translate(1325 242) rotate(66)"><tspan x="0">[HGC-RNN,</tspan><tspan x="0" dy="17">Yi2020]</tspan></text>
<text class="t ts" transform="translate(1367 330) rotate(66)"><tspan x="0">[SHARE,</tspan><tspan x="0" dy="17">Wang21]</tspan></text>
<text class="t ts" transform="translate(1398 408) rotate(66)"><tspan x="0">[Huang21]</tspan><tspan x="0" dy="17">UniGAT</tspan></text>
<text class="t ts" transform="translate(1150 400) rotate(66)"><tspan x="0">[AllSet,</tspan><tspan x="0" dy="17">Chien22]</tspan></text>
<text class="t ts" style="font-size:24px" transform="translate(1479 6) rotate(66)">Attention</text>
</g>
</svg>
